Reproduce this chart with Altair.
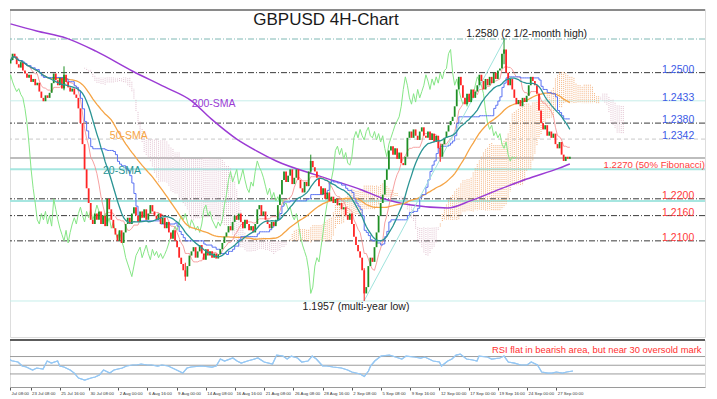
import json
import altair as alt
import pandas as pd
import numpy as np

# ---------------- data ----------------
first_bar = 2
first_open = 1.2522
closes = [
    1.2530, 1.2545, 1.2538, 1.2520, 1.2512, 1.2525, 1.2505, 1.2498, 1.2488,
    1.2495, 1.2478, 1.2485, 1.2470, 1.2476, 1.2455, 1.2440, 1.2432, 1.2446, 1.2440, 1.2452,
    1.2475, 1.2498, 1.2482, 1.2470, 1.2488, 1.2462, 1.2495, 1.2478,
    1.2465, 1.2455, 1.2462, 1.2448, 1.2440,
    1.2415, 1.2380, 1.2330, 1.2270, 1.2225,
    1.2190, 1.2150, 1.2140,
    1.2165, 1.2150, 1.2170, 1.2140, 1.2160, 1.2135,
    1.2200, 1.2175, 1.2150, 1.2130, 1.2115,
    1.2100, 1.2125, 1.2095, 1.2120, 1.2140,
    1.2155, 1.2140, 1.2165, 1.2180, 1.2160, 1.2145, 1.2170, 1.2155, 1.2175, 1.2150, 1.2165, 1.2185, 1.2170, 1.2160,
    1.2150, 1.2165, 1.2140, 1.2155, 1.2130, 1.2145, 1.2120, 1.2105, 1.2125, 1.2100, 1.2085,
    1.2060, 1.2045, 1.2030, 1.2015, 1.2040, 1.2065, 1.2075,
    1.2085, 1.2060, 1.2075, 1.2090, 1.2070, 1.2055, 1.2080, 1.2065, 1.2075, 1.2060, 1.2070, 1.2058, 1.2068, 1.2080, 1.2095, 1.2110,
    1.2120, 1.2135, 1.2125, 1.2145, 1.2160, 1.2150,
    1.2165, 1.2145, 1.2130, 1.2150, 1.2140, 1.2125, 1.2135, 1.2120, 1.2140, 1.2175,
    1.2185, 1.2160, 1.2170, 1.2150, 1.2140, 1.2130, 1.2145, 1.2135, 1.2150,
    1.2185, 1.2210, 1.2245, 1.2265, 1.2240, 1.2255, 1.2270, 1.2235,
    1.2250, 1.2270, 1.2245, 1.2225, 1.2215, 1.2240, 1.2230, 1.2265, 1.2290, 1.2275,
    1.2265, 1.2250, 1.2230, 1.2210, 1.2225, 1.2200, 1.2215, 1.2195, 1.2205, 1.2190, 1.2200,
    1.2185, 1.2190, 1.2175, 1.2180, 1.2160, 1.2150, 1.2165, 1.2140, 1.2110, 1.2090,
    1.2075, 1.2060, 1.2030, 1.1975,
    1.1990, 1.2040, 1.2060, 1.2050, 1.2085,
    1.2120, 1.2160, 1.2190, 1.2210, 1.2245, 1.2270, 1.2315,
    1.2325, 1.2305, 1.2320, 1.2295, 1.2310, 1.2285, 1.2280, 1.2300,
    1.2345, 1.2360, 1.2345, 1.2365, 1.2350, 1.2340, 1.2360, 1.2370, 1.2350, 1.2345,
    1.2360, 1.2340, 1.2355, 1.2335, 1.2350, 1.2320, 1.2300, 1.2330, 1.2345, 1.2360,
    1.2375, 1.2385, 1.2395, 1.2420, 1.2460, 1.2490,
    1.2470, 1.2440, 1.2425, 1.2450, 1.2430, 1.2460, 1.2440, 1.2455, 1.2470,
    1.2495, 1.2480, 1.2460, 1.2485, 1.2470, 1.2490, 1.2475, 1.2500, 1.2485, 1.2505, 1.2510,
    1.2545, 1.2555,
    1.2500, 1.2470, 1.2485, 1.2460, 1.2440, 1.2425, 1.2435, 1.2420, 1.2440, 1.2430, 1.2445,
    1.2470, 1.2490, 1.2480, 1.2470, 1.2450,
    1.2410, 1.2380, 1.2365, 1.2375, 1.2350, 1.2360,
    1.2345, 1.2355, 1.2330, 1.2320, 1.2335, 1.2305, 1.2290, 1.2300, 1.2295, 1.2300,
]
wick_bars = [28, 87, 148, 174, 211, 242]
wick_highs = [1.2515, 1.2048, 1.2305, 1.2035, 1.2330, 1.2580]
wick_lows = [1.2458, 1.2005, 1.2262, 1.1957, 1.2288, 1.2520]

sma200_bars = [2, 14.7, 29.1, 43.5, 61.2, 77.0, 90.0, 99.6, 112.0, 121.6, 131.2, 152.3,
               172.9, 182.5, 196.9, 214.6, 225.6, 240.0, 253.0, 268.8, 274.0]
sma200_vals = [1.2616, 1.2599, 1.2582, 1.2551, 1.2504, 1.2466, 1.2433, 1.2390, 1.2342, 1.2314,
               1.2290, 1.2254, 1.2221, 1.2202, 1.2185, 1.2178, 1.2195, 1.2223, 1.2247, 1.2273, 1.2283]

rsi_bars = [2, 5, 8, 10, 12, 15, 17, 20, 22, 24, 27, 28, 30, 33, 35, 37, 40, 43, 45, 47, 49, 52, 54,
            58, 60, 63, 65, 67, 70, 72, 75, 77, 80, 84, 87, 89, 91, 96, 101, 103, 105, 107, 111, 113,
            115, 118, 123, 126, 130, 132, 135, 137, 139, 142, 144, 147, 149, 151, 154, 156, 159, 163,
            166, 168, 172, 174, 176, 177, 179, 182, 186, 189, 192, 194, 198, 201, 203, 207, 210, 211,
            214, 216, 218, 220, 223, 226, 228, 229, 233, 235, 239, 241, 243, 246, 249, 252, 254, 257,
            259, 262, 264, 266, 269, 271, 274]
rsi_vals = [69.5, 60.3, 57.4, 48.2, 45.9, 39.0, 43.6, 41.3, 59.7, 55.0, 59.7, 48.2, 45.9, 39.0, 32.0,
            20.6, 16.0, 20.6, 22.9, 27.5, 39.0, 32.0, 39.0, 43.6, 48.2, 50.5, 50.5, 52.8, 50.5, 50.5,
            48.2, 50.5, 48.2, 39.0, 32.0, 43.6, 45.9, 48.2, 45.9, 48.2, 64.3, 59.7, 66.6, 59.7, 55.0,
            59.7, 66.6, 57.4, 52.8, 73.4, 71.1, 64.3, 71.1, 66.6, 57.4, 59.7, 71.1, 64.3, 48.2, 48.2,
            45.9, 43.6, 39.0, 34.4, 29.8, 24.0, 36.7, 48.2, 59.7, 71.1, 73.4, 68.9, 64.3, 71.1, 68.9,
            66.6, 68.9, 59.7, 57.4, 48.2, 59.7, 64.3, 73.4, 75.7, 64.3, 62.0, 59.7, 71.1, 68.9, 64.3,
            66.6, 71.1, 57.4, 55.0, 50.5, 50.5, 57.4, 50.5, 34.4, 32.0, 32.0, 34.4, 32.0, 34.4, 36.7]
rsi_levels = [70, 50, 30]

dashdot_levels = [1.2500, 1.2380, 1.2200, 1.2160, 1.2100]
top_level = [1.2580]
fib_major_levels = [1.2270, 1.2195]
fib_minor_levels = [1.2433, 1.1957]
dashed_levels = [1.2342]
price_line = [1.2297]
fib_bars = [173.9, 242.4]
fib_prices = [1.1957, 1.2580]

blue_texts = ["1.2500", "1.2433", "1.2380", "1.2342"]
blue_prices = [1.2500, 1.2433, 1.2380, 1.2342]
red_texts = ["1.2200", "1.2160", "1.2100"]
red_prices = [1.2200, 1.2160, 1.2100]

tick_bars = [4.2, 14, 28, 42, 56, 70, 84, 98, 112, 126, 140, 154, 168, 182, 196, 210, 224, 238, 252, 266]
tick_labels = ["Jul 08:00", "23 Jul 08:00", "25 Jul 16:00", "30 Jul 08:00", "2 Aug 00:00",
               "6 Aug 16:00", "9 Aug 00:00", "14 Aug 08:00", "16 Aug 16:00", "21 Aug 08:00",
               "26 Aug 08:00", "28 Aug 16:00", "2 Sep 08:00", "5 Sep 08:00", "9 Sep 16:00",
               "12 Sep 00:00", "17 Sep 00:00", "19 Sep 16:00", "24 Sep 00:00", "27 Sep 00:00"]

FONT = "Liberation Sans"
W = 695
H_MAIN = 328
H_RSI = 47
X_DOM = [4.17, 337.3]
Y_DOM = [1.187136, 1.265134]

# ---------------- derived tables ----------------
n = len(closes)
bars = [first_bar + i for i in range(n)]
df = pd.DataFrame({"bar": bars, "close": closes})
df["open"] = [first_open] + closes[:-1]
df["dir"] = np.where(df["close"] >= df["open"], "up", "down")
c = df["close"]
df["sma20"] = c.rolling(20, min_periods=1).mean()
df["sma50"] = c.rolling(50, min_periods=1).mean()
tenkan = (c.rolling(9, min_periods=1).max() + c.rolling(9, min_periods=1).min()) / 2
kijun = (c.rolling(26, min_periods=1).max() + c.rolling(26, min_periods=1).min()) / 2
df["tenkan"] = tenkan
df["kijun"] = kijun
df["spanA"] = (tenkan + kijun) / 2
df["spanB"] = (c.rolling(52, min_periods=1).max() + c.rolling(52, min_periods=1).min()) / 2
df["lead_bar"] = df["bar"] + 26
df["lag_bar"] = df["bar"] - 26
df["bull"] = df["spanA"] >= df["spanB"]

wick_df = pd.DataFrame({"bar": wick_bars, "high": wick_highs, "low": wick_lows}).merge(
    df[["bar", "dir"]], on="bar", how="left")
sma200_df = pd.DataFrame({"bar": sma200_bars, "v": sma200_vals})
rsi_df = pd.DataFrame({"bar": rsi_bars, "rsi": rsi_vals})
fib_df = pd.DataFrame({"bar": fib_bars, "price": fib_prices})

xs = alt.Scale(domain=X_DOM, nice=False, zero=False)
ys = alt.Scale(domain=Y_DOM, nice=False, zero=False)
X = lambda f: alt.X(f, scale=xs, axis=None)
Y = lambda f: alt.Y(f, scale=ys, axis=None)
candle_colors = alt.Scale(domain=["up", "down"], range=["#1f8f25", "#ff2424"])


def levels(vals, **kw):
    return alt.Chart(pd.DataFrame({"price": vals})).mark_rule(**kw).encode(y=Y("price:Q"))


def labels(texts, xb, prices, color, **kw):
    d = pd.DataFrame({"t": texts, "bar": xb, "price": prices})
    return alt.Chart(d).mark_text(font=FONT, color=color, clip=True, **kw).encode(
        x=X("bar:Q"), y=Y("price:Q"), text="t:N")


base = alt.Chart(df)

layers = [
    alt.Chart(pd.DataFrame({"a": [0]})).mark_rule(color="#8a8a8a", strokeWidth=2).encode(y=alt.value(1)),
    levels(top_level, color="#7fb8b4", strokeDash=[6, 2, 1, 2], strokeWidth=1),
    levels(fib_minor_levels, color="#c6eeea", strokeWidth=1),
    levels(dashed_levels, color="#c8c8c8", strokeDash=[4, 3], strokeWidth=1),
    levels(fib_major_levels, color="#a6e6e0", strokeWidth=2),
    levels(price_line, color="#bdbdbd", strokeWidth=2),
    levels(dashdot_levels, color="#3a3a3a", strokeDash=[6, 2, 1, 2], strokeWidth=1),
    base.mark_rule(strokeDash=[1, 1], strokeWidth=1, opacity=0.85, clip=True).encode(
        x=X("lead_bar:Q"), y=Y("spanA:Q"), y2="spanB:Q",
        color=alt.condition(alt.datum.bull, alt.value("#f2a468"), alt.value("#dcb6c8"))),
    base.mark_line(color="#86e686", strokeWidth=1, clip=True).encode(x=X("lag_bar:Q"), y=Y("close:Q")),
    alt.Chart(sma200_df).mark_line(color="#9b3bd4", strokeWidth=1.5, interpolate="monotone", clip=True).encode(
        x=X("bar:Q"), y=Y("v:Q")),
    base.mark_line(color="#f5a445", strokeWidth=1.3, clip=True).encode(x=X("bar:Q"), y=Y("sma50:Q")),
    base.mark_line(color="#f48a8a", strokeWidth=1, opacity=0.8, clip=True).encode(x=X("bar:Q"), y=Y("tenkan:Q")),
    base.mark_line(color="#5a72f2", strokeWidth=1, interpolate="step-after", clip=True).encode(
        x=X("bar:Q"), y=Y("kijun:Q")),
    alt.Chart(fib_df).mark_line(color="#9fe3dc", strokeWidth=1, clip=True).encode(x=X("bar:Q"), y=Y("price:Q")),
    alt.Chart(wick_df).mark_rule(strokeWidth=1, clip=True).encode(
        x=X("bar:Q"), y=Y("low:Q"), y2="high:Q", color=alt.Color("dir:N", scale=candle_colors, legend=None)),
    base.mark_bar(size=1.8, clip=True).encode(
        x=X("bar:Q"), y=Y("open:Q"), y2="close:Q",
        color=alt.Color("dir:N", scale=candle_colors, legend=None)),
    base.mark_line(color="#2a9494", strokeWidth=1.3, clip=True).encode(x=X("bar:Q"), y=Y("sma20:Q")),
    # annotations
    alt.Chart(pd.DataFrame({"t": ["GBPUSD 4H-Chart"]})).mark_text(
        font=FONT, fontSize=17, color="#1a1a1a", align="center", baseline="middle").encode(
        text="t:N", x=alt.value(316), y=alt.value(10.5)),
    labels(["1.2580 (2 1/2-month high)"], [253], [1.2580], "#222222", fontSize=10.5,
           align="center", baseline="alphabetic", dy=-2),
    labels(["1.1957 (multi-year low)"], [170], [1.1957], "#222222", fontSize=10.5,
           align="center", baseline="alphabetic", dy=9),
    labels(blue_texts, [334.5] * 4, blue_prices, "#3c5ae6", fontSize=10.5, align="right", baseline="alphabetic"),
    labels(red_texts, [334.5] * 3, red_prices, "#ff3b3b", fontSize=10.5, align="right", baseline="alphabetic"),
    labels(["1.2270 (50% Fibonacci)"], [290.4], [1.2270], "#ff3b3b", fontSize=9.6,
           align="left", baseline="alphabetic", dy=-1),
    labels(["200-SMA"], [100.8], [1.2418], "#9b3bd4", fontSize=10.5, align="center", baseline="alphabetic"),
    labels(["50-SMA"], [59.5], [1.2342], "#f5a445", fontSize=10.5, align="center", baseline="alphabetic"),
    labels(["20-SMA"], [56.2], [1.2259], "#2a9494", fontSize=10.5, align="center", baseline="alphabetic"),
]
main = alt.layer(*layers).properties(width=W, height=H_MAIN)

# ---------------- RSI panel ----------------
rs = alt.Scale(domain=[0, 108], nice=False, zero=False)
label_expr = "%s[indexof(%s, datum.value)]" % (json.dumps(tick_labels), json.dumps(tick_bars))
x_axis = alt.Axis(values=tick_bars, labelExpr=label_expr, labelAlign="left", labelBaseline="top",
                  labelFontSize=4.3, labelFont=FONT, labelColor="#333333", labelPadding=1, labelOffset=1,
                  tickSize=3, tickColor="#555555", domainColor="#9a9a9a", grid=False, title=None,
                  labelOverlap=False, labelFlush=False, labelBound=False)
rsi = alt.layer(
    alt.Chart(rsi_df).mark_line(color="#96c8f4", strokeWidth=1.2, clip=True).encode(
        x=alt.X("bar:Q", scale=xs, axis=x_axis), y=alt.Y("rsi:Q", scale=rs, axis=None)),
    alt.Chart(pd.DataFrame({"v": rsi_levels})).mark_rule(color="#9c9c9c", strokeWidth=1).encode(
        y=alt.Y("v:Q", scale=rs, axis=None)),
    alt.Chart(rsi_df).mark_line(color="#96c8f4", strokeWidth=1.2, clip=True).encode(
        x=alt.X("bar:Q", scale=xs, axis=x_axis), y=alt.Y("rsi:Q", scale=rs, axis=None)),
    alt.Chart(pd.DataFrame({"a": [0]})).mark_rule(color="#5c5c5c", strokeWidth=2).encode(y=alt.value(0)),
    alt.Chart(pd.DataFrame({"t": ["RSI flat in bearish area, but near 30 oversold mark"], "bar": [235.2], "v": [78]}))
    .mark_text(font=FONT, fontSize=9.4, color="#ff3030", align="left", baseline="alphabetic", clip=True)
    .encode(x=alt.X("bar:Q", scale=xs, axis=x_axis), y=alt.Y("v:Q", scale=rs, axis=None), text="t:N"),
).properties(width=W, height=H_RSI)

chart = alt.vconcat(main, rsi, spacing=0).properties(
    padding={"left": 0, "top": 0, "right": 0, "bottom": 0}, background="white"
).configure_view(stroke=None).configure(font=FONT)

chart.save("out.html", embed_options={"renderer": "svg", "actions": False})
